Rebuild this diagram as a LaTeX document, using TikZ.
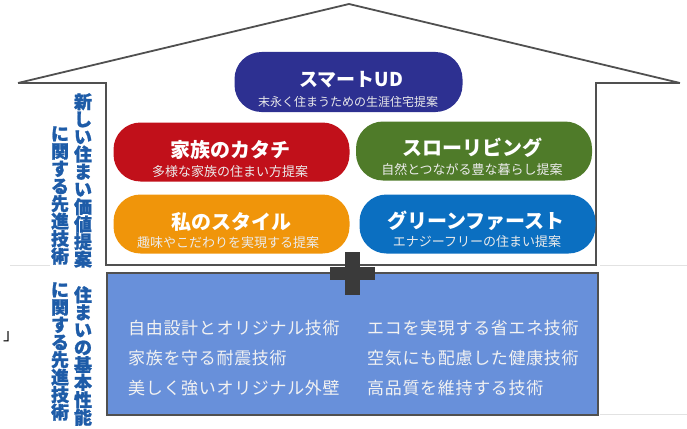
\documentclass[tikz,border=0pt]{standalone}
\usepackage{fontspec}
\newfontfamily\jp{Noto Sans CJK JP}
\definecolor{navy}{HTML}{2D3091}
\definecolor{pred}{HTML}{C1101A}
\definecolor{porange}{HTML}{F0950A}
\definecolor{pgreen}{HTML}{4F7B29}
\definecolor{pblue}{HTML}{0B6FC1}
\definecolor{basefill}{HTML}{6890DA}
\definecolor{wallgray}{HTML}{505050}
\definecolor{vblue}{HTML}{1E5CA8}
\definecolor{faintgray}{HTML}{E2E2E2}
\definecolor{plusgray}{HTML}{3A3A3A}
\begin{document}
\begin{tikzpicture}[x=1pt,y=-1pt,
  roofline/.style={draw=wallgray, line width=1.8pt, line join=miter},
  wall/.style={draw=wallgray, line width=2.4pt},
  pill/.style={rounded corners=27pt, minimum width=236pt, minimum height=59pt, inner sep=0pt},
  ptitle/.style={text=white, inner sep=0pt, font=\jp\bfseries\fontsize{20}{22}\selectfont},
  psub/.style={text=white!92!black, inner sep=0pt, font=\jp\fontsize{13}{15}\selectfont},
  vt/.style={text=vblue, inner sep=0pt, align=center, font=\jp\bfseries\fontsize{18}{17.5}\selectfont\addfontfeature{FakeBold=1.2}},
  btext/.style={text=white!95!black, inner sep=0pt, anchor=west, font=\jp\fontsize{17}{20}\selectfont\addfontfeature{LetterSpace=4}},
  faint/.style={draw=faintgray, line width=0.8pt}
]
\useasboundingbox (0,0) rectangle (687,428);

% faint guide lines
\draw[faint] (10,265) -- (50,265);
\draw[faint] (600,265) -- (687,265);
\draw[faint] (600,414) -- (687,414);

% house outline
\coordinate (apex) at (349,4);
\coordinate (le) at (18,83);
\coordinate (re) at (680,83);
\coordinate (lw) at (106,83);
\coordinate (rw) at (596,83);
\coordinate (lb) at (106,265);
\coordinate (rb) at (596,265);
\draw[roofline] (le) -- (apex) -- (re);
\draw[wall] (le) -- (lw) -- (lb) -- (rb) -- (rw) -- (re);

% base box
\node[wall, fill=basefill, minimum width=491pt, minimum height=142pt, inner sep=0pt] (base) at (352.5,344) {};

% plus sign
\fill[plusgray] (345,252) rectangle (360,295);
\fill[plusgray] (330,267) rectangle (375,280);

% pills
\node[pill, fill=navy, minimum width=228pt, minimum height=60pt] (ud) at (348.5,82) {};
\node[ptitle, font=\jp\bfseries\fontsize{19}{21}\selectfont] (udT) at (351,79.5) {スマートUD};
\node[psub, font=\jp\fontsize{12}{14}\selectfont] (udS) at (348,102) {末永く住まうための生涯住宅提案};

\node[pill, fill=pred] (fam) at (231.5,152) {};
\node[ptitle] (famT) at (230,150) {家族のカタチ};
\node[psub] (famS) at (230,172) {多様な家族の住まい方提案};

\node[pill, fill=pgreen] (slow) at (474,151) {};
\node[ptitle] (slowT) at (472,148) {スローリビング};
\node[psub] (slowS) at (472,170) {自然とつながる豊な暮らし提案};

\node[pill, fill=porange] (style) at (231.5,224) {};
\node[ptitle] (styleT) at (231,222) {私のスタイル};
\node[psub] (styleS) at (228,243) {趣味やこだわりを実現する提案};

\node[pill, fill=pblue] (green) at (477.5,224) {};
\node[ptitle] (greenT) at (476,221) {グリーンファースト};
\node[psub] (greenS) at (477,242) {エナジーフリーの住まい提案};

% base texts
\node[btext] (b1) at (128,328) {自由設計とオリジナル技術};
\node[btext] (b2) at (128,358) {家族を守る耐震技術};
\node[btext] (b3) at (128,388) {美しく強いオリジナル外壁};
\node[btext] (b4) at (367,328) {エコを実現する省エネ技術};
\node[btext] (b5) at (367,358) {空気にも配慮した健康技術};
\node[btext] (b6) at (367,388) {高品質を維持する技術};

% vertical texts
\node[vt] (v1) at (83,180.5) {新\\し\\い\\住\\ま\\い\\価\\値\\提\\案};
\node[vt] (v2) at (60,195.5) {に\\関\\す\\る\\先\\進\\技\\術};
\node[vt] (v3) at (83,356) {住\\ま\\い\\の\\基\\本\\性\\能};
\node[vt] (v4) at (60,351.5) {に\\関\\す\\る\\先\\進\\技\\術};

% stray bracket
\node[inner sep=0pt, font=\jp\fontsize{16}{18}\selectfont] (br) at (11,337) {」};
\end{tikzpicture}
\end{document}
